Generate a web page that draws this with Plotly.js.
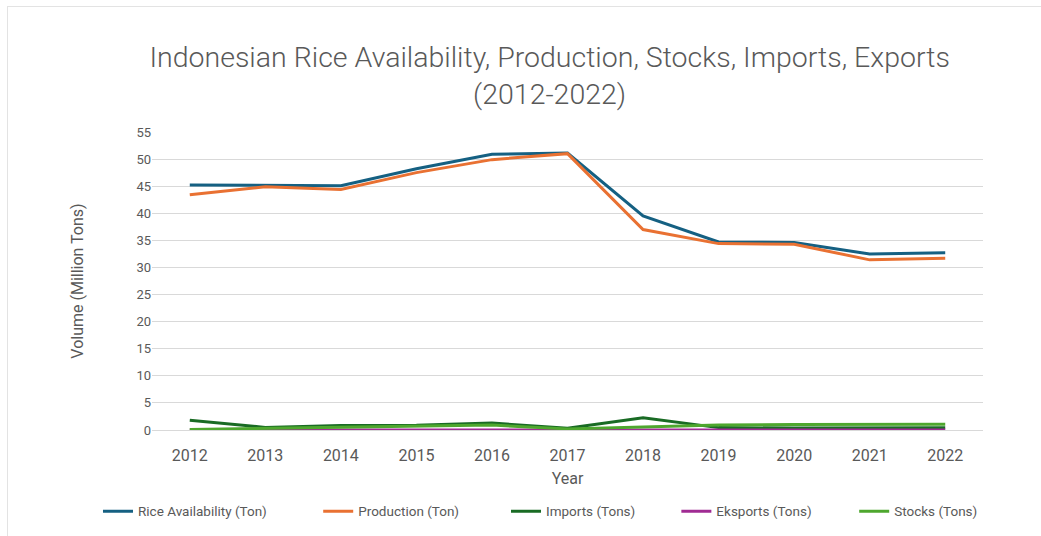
<!DOCTYPE html>
<html>
<head>
<meta charset="utf-8">
<script src="https://cdn.plot.ly/plotly-3.0.1.min.js"></script>
<style>
  html, body { margin: 0; padding: 0; background: #fff; }
  #frame { position: absolute; left: 7px; top: 6px; width: 1100px; height: 600px; border-left: 1px solid #e3e3e3; border-top: 1px solid #e3e3e3; pointer-events: none; }
  #chart { width: 1041px; height: 536px; }
</style>
</head>
<body>
<div id="chart"></div>
<div id="frame"></div>
<script>
const years = ['2012','2013','2014','2015','2016','2017','2018','2019','2020','2021','2022'];
const riceAvailability = [45.2, 45.2, 45.1, 48.2, 50.9, 51.1, 39.5, 34.7, 34.6, 32.5, 32.7];
const production       = [43.4, 44.9, 44.4, 47.5, 49.9, 51.0, 37.0, 34.4, 34.3, 31.4, 31.7];
const imports          = [1.81, 0.47, 0.84, 0.86, 1.28, 0.31, 2.25, 0.44, 0.36, 0.41, 0.43];
const exports_         = [0.00, 0.00, 0.00, 0.00, 0.00, 0.00, 0.01, 0.01, 0.01, 0.01, 0.01];
const stocks           = [0.10, 0.30, 0.60, 0.70, 0.90, 0.20, 0.50, 0.90, 1.00, 1.00, 1.05];

const seriesNames = ['Rice Availability (Ton)', 'Production (Ton)', 'Imports (Tons)', 'Eksports (Tons)', 'Stocks (Tons)'];
const seriesData = [riceAvailability, production, imports, exports_, stocks];
const colors = ['#156082', '#E97132', '#196B24', '#A02B93', '#4EA72E'];
const legendIds = ['legend', 'legend2', 'legend3', 'legend4', 'legend5'];
const legendX = [-0.065, 0.20, 0.426, 0.631, 0.845];

const font = 'Roboto, Arial, sans-serif';
const traces = seriesData.map((d, i) => ({
  x: years, y: d, type: 'scatter', mode: 'lines', name: seriesNames[i],
  line: { color: colors[i], width: 3 }, legend: legendIds[i]
}));

const layout = {
  width: 1041, height: 536,
  margin: { l: 152, r: 58, t: 132, b: 106, autoexpand: false },
  paper_bgcolor: '#fff', plot_bgcolor: '#fff',
  font: { family: font, color: '#595959' },
  title: { text: 'Indonesian Rice Availability, Production, Stocks, Imports, Exports<br>(2012-2022)',
           x: 0.528, xanchor: 'center', y: 0.875, yanchor: 'top',
           font: { size: 28.5, color: '#595959', family: font, weight: 300 } },
  xaxis: { type: 'category', range: [-0.5, 10.5], showgrid: false, zeroline: false, showline: false,
           tickfont: { size: 16, color: '#595959' }, ticks: 'outside', ticklen: 11, tickcolor: 'rgba(0,0,0,0)',
           title: { text: 'Year', font: { size: 16, color: '#595959' }, standoff: 8 } },
  yaxis: { range: [0, 55], dtick: 5, tick0: 0, showgrid: true, gridcolor: '#d9d9d9', gridwidth: 1,
           zeroline: true, zerolinecolor: '#d9d9d9', zerolinewidth: 1, showline: false,
           tickfont: { size: 13, color: '#595959' }, ticks: '', ticklen: 0,
           title: { text: 'Volume (Million Tons)', font: { size: 16, color: '#595959' }, standoff: 48 } },
  showlegend: true
};
legendIds.forEach((id, i) => {
  layout[id] = { orientation: 'h', x: legendX[i], xanchor: 'left', y: -0.221, yanchor: 'top',
                 font: { size: 13.5, color: '#595959' }, bgcolor: 'rgba(0,0,0,0)' };
});

Plotly.newPlot('chart', traces, layout, { displayModeBar: false, staticPlot: true });
</script>
</body>
</html>
